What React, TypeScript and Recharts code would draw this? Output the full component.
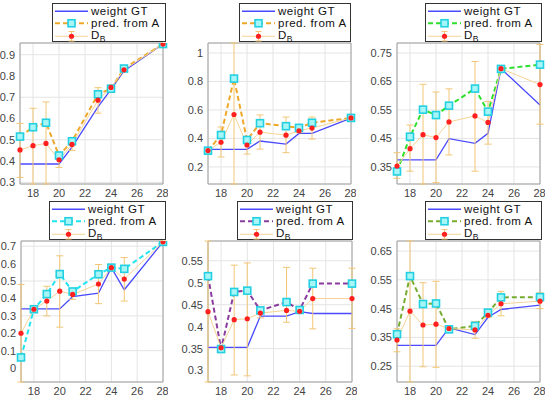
import React from "react";
import {
  ComposedChart,
  Line,
  XAxis,
  YAxis,
  CartesianGrid,
  ErrorBar,
  ReferenceArea,
} from "recharts";

// --- Data ---

const XS = [17, 18, 19, 20, 21, 23, 24, 25, 28];
const X_TICKS = [18, 20, 22, 24, 26, 28];

const p1Gt = [0.386, 0.386, 0.386, 0.386, 0.465, 0.655, 0.737, 0.824, 0.95];
const p1Pred = [0.515, 0.559, 0.58, 0.426, 0.493, 0.714, 0.74, 0.835, 0.95];
const p1Db = [0.452, 0.472, 0.483, 0.406, 0.478, 0.686, 0.746, 0.829, 0.95];
const p1Lo = [0.323, 0.25, 0.25, 0.37, 0.45, 0.625, 0.737, 0.82, 0.946];
const p1Hi = [0.577, 0.648, 0.678, 0.44, 0.51, 0.745, 0.757, 0.838, 0.954];
const p1Ticks = [0.3, 0.4, 0.5, 0.6, 0.7, 0.8, 0.9];

const p2Gt = [0.323, 0.323, 0.323, 0.323, 0.382, 0.36, 0.435, 0.435, 0.543];
const p2Pred = [0.314, 0.424, 0.82, 0.389, 0.507, 0.486, 0.474, 0.51, 0.544];
const p2Db = [0.315, 0.373, 0.568, 0.354, 0.444, 0.423, 0.454, 0.473, 0.544];
const p2Lo = [0.31, 0.27, 0.0, 0.29, 0.325, 0.3, 0.44, 0.395, 0.54];
const p2Hi = [0.32, 0.48, 1.2, 0.4, 0.565, 0.55, 0.49, 0.55, 0.548];
const p2Ticks = [0.1, 0.2, 0.3, 0.4, 0.5, 0.6, 0.7, 0.8, 0.9, 1];

const p3Gt = [0.375, 0.375, 0.375, 0.375, 0.449, 0.433, 0.468, 0.695, 0.567];
const p3Pred = [0.334, 0.456, 0.551, 0.532, 0.565, 0.625, 0.544, 0.694, 0.709];
const p3Db = [0.353, 0.414, 0.463, 0.453, 0.508, 0.529, 0.506, 0.695, 0.639];
const p3Lo = [0.31, 0.335, 0.25, 0.295, 0.392, 0.335, 0.43, 0.69, 0.5];
const p3Hi = [0.4, 0.497, 0.64, 0.613, 0.624, 0.72, 0.58, 0.7, 0.78];
const p3Ticks = [0.3, 0.35, 0.4, 0.45, 0.5, 0.55, 0.6, 0.65, 0.7, 0.75];

const p4Gt = [0.34, 0.34, 0.34, 0.34, 0.41, 0.43, 0.577, 0.45, 0.725];
const p4Pred = [0.061, 0.338, 0.425, 0.54, 0.44, 0.539, 0.577, 0.57, 0.725];
const p4Db = [0.2, 0.338, 0.385, 0.442, 0.423, 0.483, 0.577, 0.511, 0.725];
const p4Lo = [-0.2, 0.33, 0.3, 0.235, 0.395, 0.37, 0.57, 0.385, 0.72];
const p4Hi = [0.48, 0.345, 0.47, 0.645, 0.445, 0.595, 0.585, 0.635, 0.73];
const p4Ticks = [0, 0.1, 0.2, 0.3, 0.4, 0.5, 0.6, 0.7];

const p5Gt = [0.353, 0.353, 0.353, 0.353, 0.424, 0.424, 0.434, 0.43, 0.43];
const p5Pred = [0.515, 0.349, 0.479, 0.482, 0.437, 0.456, 0.438, 0.498, 0.498];
const p5Db = [0.434, 0.352, 0.416, 0.418, 0.431, 0.437, 0.435, 0.464, 0.464];
const p5Lo = [0.2, 0.348, 0.29, 0.288, 0.42, 0.41, 0.432, 0.395, 0.396];
const p5Hi = [0.7, 0.356, 0.54, 0.545, 0.44, 0.535, 0.44, 0.533, 0.533];
const p5Ticks = [0.3, 0.35, 0.4, 0.45, 0.5, 0.55];

const p6Gt = [0.322, 0.322, 0.322, 0.322, 0.383, 0.36, 0.42, 0.447, 0.462];
const p6Pred = [0.361, 0.563, 0.466, 0.468, 0.378, 0.39, 0.436, 0.489, 0.49];
const p6Db = [0.341, 0.441, 0.393, 0.396, 0.381, 0.376, 0.427, 0.467, 0.476];
const p6Lo = [0.3, 0.1, 0.248, 0.246, 0.378, 0.347, 0.42, 0.425, 0.45];
const p6Hi = [0.38, 0.8, 0.54, 0.545, 0.386, 0.405, 0.435, 0.51, 0.505];
const p6Ticks = [0.2, 0.25, 0.3, 0.35, 0.4, 0.45, 0.5, 0.55, 0.6, 0.65];

// --- Styles ---

const FONT = '"Liberation Sans", Arial, Helvetica, sans-serif';
const GT_COLOR = "#4a4aff";
const DB_LINE = "#f6d394";
const DB_ERR = "#f2c676";
const DB_DOT = "#ff1f1f";
const SQ_FILL = "#a6f6f8";
const SQ_STROKE = "#22d0e2";

interface PanelCfg {
  gt: number[];
  pred: number[];
  db: number[];
  lo: number[];
  hi: number[];
  yTicks: number[];
  domain: [number, number];
  predColor: string;
  plot: { x: number; y: number; w: number; h: number };
  legend: { x: number; y: number; w: number };
}

const PANELS: PanelCfg[] = [
  {
    gt: p1Gt, pred: p1Pred, db: p1Db, lo: p1Lo, hi: p1Hi, yTicks: p1Ticks,
    domain: [0.292, 0.955], predColor: "#eda82a",
    plot: { x: 20, y: 43, w: 143, h: 141 }, legend: { x: 52, y: 3, w: 114 },
  },
  {
    gt: p2Gt, pred: p2Pred, db: p2Db, lo: p2Lo, hi: p2Hi, yTicks: p2Ticks,
    domain: [0.08, 1.07], predColor: "#eda82a",
    plot: { x: 208, y: 43, w: 143, h: 141 }, legend: { x: 239, y: 3, w: 112 },
  },
  {
    gt: p3Gt, pred: p3Pred, db: p3Db, lo: p3Lo, hi: p3Hi, yTicks: p3Ticks,
    domain: [0.29, 0.785], predColor: "#2ee02e",
    plot: { x: 397, y: 43, w: 143, h: 141 }, legend: { x: 425, y: 3, w: 117 },
  },
  {
    gt: p4Gt, pred: p4Pred, db: p4Db, lo: p4Lo, hi: p4Hi, yTicks: p4Ticks,
    domain: [-0.08, 0.73], predColor: "#22e4f0",
    plot: { x: 21, y: 241, w: 142, h: 141 }, legend: { x: 49, y: 201, w: 117 },
  },
  {
    gt: p5Gt, pred: p5Pred, db: p5Db, lo: p5Lo, hi: p5Hi, yTicks: p5Ticks,
    domain: [0.274, 0.595], predColor: "#8a3c9e",
    plot: { x: 208, y: 241, w: 144, h: 141 }, legend: { x: 237, y: 201, w: 116 },
  },
  {
    gt: p6Gt, pred: p6Pred, db: p6Db, lo: p6Lo, hi: p6Hi, yTicks: p6Ticks,
    domain: [0.195, 0.685], predColor: "#77ac30",
    plot: { x: 397, y: 241, w: 143, h: 141 }, legend: { x: 425, y: 201, w: 117 },
  },
];

const fmt = (v: number) => String(Number(v.toFixed(2)));

function squareDot(props: any) {
  const { cx, cy, index } = props;
  if (cx == null || cy == null) return <g key={`sq-${index}`} />;
  return (
    <rect
      key={`sq-${index}`}
      x={cx - 3.5}
      y={cy - 3.5}
      width={7}
      height={7}
      fill={SQ_FILL}
      stroke={SQ_STROKE}
      strokeWidth={1.6}
    />
  );
}

// --- Panel ---

function Panel({ cfg }: { cfg: PanelCfg }) {
  const [yMin, yMax] = cfg.domain;
  // error bars are clipped to the axes box like in the source figure
  const data = XS.map((x, i) => {
    const lo = Math.max(cfg.lo[i], yMin);
    const hi = Math.min(cfg.hi[i], yMax);
    return {
      x,
      gt: cfg.gt[i],
      pred: cfg.pred[i],
      db: cfg.db[i],
      dbErr: [cfg.db[i] - lo, hi - cfg.db[i]],
    };
  });
  const W = cfg.plot.w + 35;
  const H = cfg.plot.h + 20;
  const tick = { fontSize: 11, fill: "#444", fontFamily: FONT };

  return (
    <div style={{ position: "absolute", left: cfg.plot.x - 30, top: cfg.plot.y - 5, width: W, height: H }}>
      <ComposedChart width={W} height={H} data={data} margin={{ top: 5, right: 5, bottom: 0, left: 0 }}>
        <CartesianGrid stroke="#e4e4e4" />
        <XAxis
          dataKey="x"
          type="number"
          domain={[17, 28]}
          ticks={X_TICKS}
          height={15}
          axisLine={false}
          tickLine={false}
          tickSize={3}
          tickMargin={2}
          tick={tick}
        />
        <YAxis
          type="number"
          domain={cfg.domain}
          ticks={cfg.yTicks}
          allowDataOverflow
          width={30}
          axisLine={false}
          tickLine={false}
          tickSize={3}
          tickMargin={2}
          tickFormatter={fmt}
          tick={tick}
        />
        <ReferenceArea
          x1={17}
          x2={28}
          y1={yMin}
          y2={yMax}
          fill="none"
          stroke="#a0a0a0"
          strokeWidth={1}
        />
        <Line
          dataKey="gt"
          type="linear"
          stroke={GT_COLOR}
          strokeWidth={1.3}
          dot={false}
          isAnimationActive={false}
        />
        <Line
          dataKey="pred"
          type="linear"
          stroke={cfg.predColor}
          strokeWidth={2}
          strokeDasharray="5 3"
          dot={squareDot}
          isAnimationActive={false}
        />
        <Line
          dataKey="db"
          type="linear"
          stroke={DB_LINE}
          strokeWidth={1}
          dot={{ r: 2.6, fill: DB_DOT, stroke: DB_DOT, strokeWidth: 0 }}
          isAnimationActive={false}
        >
          <ErrorBar dataKey="dbErr" width={3.5} stroke={DB_ERR} strokeWidth={1} />
        </Line>
      </ComposedChart>
    </div>
  );
}

// --- Legend (MATLAB-style box) ---

const ROW_H = 12.5;

function PanelLegend({ cfg }: { cfg: PanelCfg }) {
  const mid = ROW_H / 2;
  const rows = [
    { key: "gt", label: <span>weight GT</span> },
    { key: "pred", label: <span>pred. from A</span> },
    {
      key: "db",
      label: (
        <span>
          D<span style={{ fontSize: 8.5, position: "relative", top: 3 }}>B</span>
        </span>
      ),
    },
  ];
  return (
    <div
      style={{
        position: "absolute",
        left: cfg.legend.x,
        top: cfg.legend.y,
        width: cfg.legend.w,
        height: 39,
        background: "#fff",
        border: "1px solid #333",
        boxSizing: "border-box",
        fontFamily: FONT,
        fontSize: 11.5,
        letterSpacing: 0.5,
        color: "#111",
        paddingTop: 0.5,
      }}
    >
      {rows.map((r) => (
        <div key={r.key} style={{ display: "flex", alignItems: "center", height: ROW_H, lineHeight: `${ROW_H}px` }}>
          <svg width={38} height={ROW_H} style={{ flex: "none" }}>
            {r.key === "gt" && <line x1={2} x2={35} y1={mid} y2={mid} stroke={GT_COLOR} strokeWidth={1.5} />}
            {r.key === "pred" && (
              <>
                <line x1={2} x2={35} y1={mid} y2={mid} stroke={cfg.predColor} strokeWidth={2} strokeDasharray="5 3" />
                <rect x={15} y={mid - 3.5} width={7} height={7} fill={SQ_FILL} stroke={SQ_STROKE} strokeWidth={1.6} />
              </>
            )}
            {r.key === "db" && (
              <>
                <line x1={2} x2={35} y1={mid} y2={mid} stroke={DB_LINE} strokeWidth={1} />
                <line x1={18.5} x2={18.5} y1={1.5} y2={ROW_H - 1.5} stroke={DB_ERR} strokeWidth={1} />
                <line x1={15.5} x2={21.5} y1={1.5} y2={1.5} stroke={DB_ERR} strokeWidth={1} />
                <line x1={15.5} x2={21.5} y1={ROW_H - 1.5} y2={ROW_H - 1.5} stroke={DB_ERR} strokeWidth={1} />
                <circle cx={18.5} cy={mid} r={2.6} fill={DB_DOT} />
              </>
            )}
          </svg>
          {r.label}
        </div>
      ))}
    </div>
  );
}

export default function App() {
  return (
    <div style={{ position: "absolute", left: 0, top: 0, width: 550, height: 398, background: "#fff", overflow: "hidden" }}>
      {PANELS.map((cfg, i) => (
        <Panel key={`p${i}`} cfg={cfg} />
      ))}
      {PANELS.map((cfg, i) => (
        <PanelLegend key={`l${i}`} cfg={cfg} />
      ))}
    </div>
  );
}
